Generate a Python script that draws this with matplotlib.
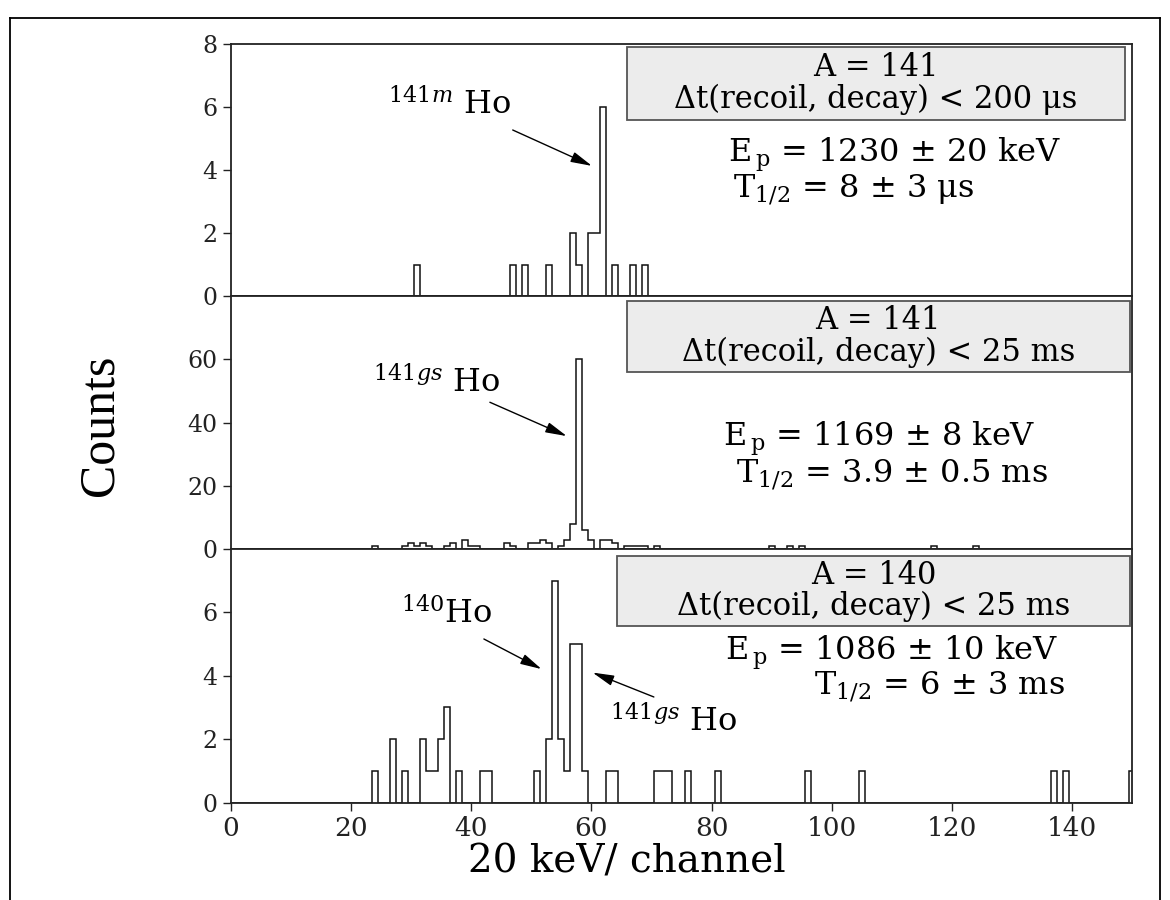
import matplotlib
matplotlib.use("Agg")
import matplotlib.pyplot as plt
import numpy as np
from matplotlib.patches import Rectangle
from matplotlib.lines import Line2D

plt.rcParams['font.family'] = ['DejaVu Serif']
plt.rcParams['mathtext.fontset'] = 'dejavuserif'

# non-empty channels and their counts, one list pair per panel
ch_top = [31, 47, 49, 53, 57, 58, 60, 61, 62, 64, 67, 69]
cnt_top = [1, 1, 1, 1, 2, 1, 2, 2, 6, 1, 1, 1]

ch_mid = [24, 29, 30, 31, 32, 33, 36, 37, 39, 40, 41, 46, 47, 50, 51, 52, 53,
          55, 56, 57, 58, 59, 60, 62, 63, 64, 66, 67, 68, 69, 71, 90, 93, 95,
          117, 124]
cnt_mid = [1, 1, 2, 1, 2, 1, 1, 2, 3, 1, 1, 2, 1, 2, 2, 3, 2,
           1, 3, 8, 60, 6, 3, 3, 3, 2, 1, 1, 1, 1, 1, 1, 1, 1,
           1, 1]

ch_bot = [24, 27, 29, 32, 33, 34, 35, 36, 38, 42, 43, 51, 53, 54, 55, 56, 57,
          58, 59, 63, 64, 71, 72, 73, 76, 81, 96, 105, 137, 139, 150]
cnt_bot = [1, 2, 1, 2, 1, 1, 2, 3, 1, 1, 1, 1, 2, 7, 2, 1, 5,
           5, 1, 1, 1, 1, 1, 1, 1, 1, 1, 1, 1, 1, 1]

box_text = ["A = 141\nΔt(recoil, decay) < 200 μs",
            "A = 141\nΔt(recoil, decay) < 25 ms",
            "A = 140\nΔt(recoil, decay) < 25 ms"]
ep_text = [r"E$_{\,\rm p}$ = 1230 ± 20 keV",
           r"E$_{\,\rm p}$ = 1169 ± 8 keV",
           r"E$_{\,\rm p}$ = 1086 ± 10 keV"]
t_text = [r"T$_{1/2}$ = 8 ± 3 μs",
          r"T$_{1/2}$ = 3.9 ± 0.5 ms",
          r"T$_{1/2}$ = 6 ± 3 ms"]

W, H = 1170, 900
fig = plt.figure(figsize=(W / 100, H / 100), dpi=100)

left, right = 231 / W, 1132 / W
rows = [(44, 296), (296, 549), (549, 802.5)]
ylims = [8, 80, 8]
yticks = [[0, 2, 4, 6, 8], [0, 20, 40, 60], [0, 2, 4, 6]]

edges = np.arange(-0.5, 151.5, 1.0)

axes = []
for i, (ch, cnt) in enumerate([(ch_top, cnt_top), (ch_mid, cnt_mid), (ch_bot, cnt_bot)]):
    y0, y1 = rows[i]
    ax = fig.add_axes([left, 1 - y1 / H, right - left, (y1 - y0) / H])
    vals = np.zeros(len(edges) - 1)
    vals[ch] = cnt
    ax.stairs(vals, edges, color='#111111', lw=1.1)
    ax.set_xlim(0, 150)
    ax.set_ylim(0, ylims[i])
    ax.set_yticks(yticks[i])
    ax.tick_params(axis='y', direction='out', length=6, width=1, labelsize=17,
                   pad=4, colors='#222222')
    for s in ax.spines.values():
        s.set_linewidth(1.3)
        s.set_color('#222222')
    if i < 2:
        ax.tick_params(axis='x', bottom=False, labelbottom=False)
    else:
        ax.set_xticks(np.arange(0, 141, 20))
        ax.tick_params(axis='x', direction='out', length=6, width=1,
                       labelsize=19, pad=4, colors='#222222')
    axes.append(ax)

# grey boxes with the cut conditions (x0, x1, y0, y1)
boxes = [(65.9, 148.8, 5.59, 7.9),
         (65.9, 149.6, 56.0, 78.4),
         (64.3, 149.6, 5.56, 7.79)]
for ax, (bx0, bx1, by0, by1), txt in zip(axes, boxes, box_text):
    ax.add_patch(Rectangle((bx0, by0), bx1 - bx0, by1 - by0, facecolor='#ececec',
                           edgecolor='#555555', lw=1.3, zorder=3))
    ax.text((bx0 + bx1) / 2, (by0 + by1) / 2, txt, ha='center', va='center',
            multialignment='center', linespacing=1.0, fontsize=22, zorder=4)

# E_p and half-life lines, placed by their centres
ep_pos = [(110.5, 4.48), (108.0, 34.8), (109.9, 4.73)]
t_pos = [(103.6, 3.37), (110.0, 23.7), (118.0, 3.66)]
for ax, s, p in zip(axes, ep_text, ep_pos):
    ax.text(p[0], p[1], s, ha='center', va='center', fontsize=23)
for ax, s, p in zip(axes, t_text, t_pos):
    ax.text(p[0], p[1], s, ha='center', va='center', fontsize=23)

# peak labels with arrows
arrow = dict(arrowstyle='-|>,head_length=1.3,head_width=0.32', color='k', lw=1,
             shrinkA=0, shrinkB=0)
lab_fs = 23
axes[0].text(26.1, 6.06, r"$^{141m}$ Ho", ha='left', va='center', fontsize=lab_fs)
axes[0].annotate('', xy=(60.1, 4.13), xytext=(46.9, 5.27), arrowprops=arrow)
axes[1].text(23.6, 52.5, r"$^{141gs}$ Ho", ha='left', va='center', fontsize=lab_fs)
axes[1].annotate('', xy=(55.9, 35.7), xytext=(43.1, 46.4), arrowprops=arrow)
axes[2].text(28.3, 5.95, r"$^{140}$Ho", ha='left', va='center', fontsize=lab_fs)
axes[2].annotate('', xy=(51.7, 4.21), xytext=(42.1, 5.16), arrowprops=arrow)
axes[2].text(63.1, 2.53, r"$^{141gs}$ Ho", ha='left', va='center', fontsize=lab_fs)
axes[2].annotate('', xy=(60.2, 4.10), xytext=(70.4, 3.33), arrowprops=arrow)

fig.text(100 / W, 1 - 425 / H, "Counts", rotation=90, ha='center', va='center',
         fontsize=36, family=['Liberation Serif'])
fig.text(627 / W, 1 - 862 / H, "20 keV/ channel", ha='center', va='center',
         fontsize=28)

# outer frame of the page
fig.add_artist(Line2D([10 / W, 1160 / W], [1 - 18 / H, 1 - 18 / H], color='k', lw=1.3))
fig.add_artist(Line2D([10 / W, 10 / W], [1 - 18 / H, 0], color='k', lw=1.3))
fig.add_artist(Line2D([1160 / W, 1160 / W], [1 - 18 / H, 0], color='k', lw=1.3))

fig.savefig("out.png", dpi=100)
